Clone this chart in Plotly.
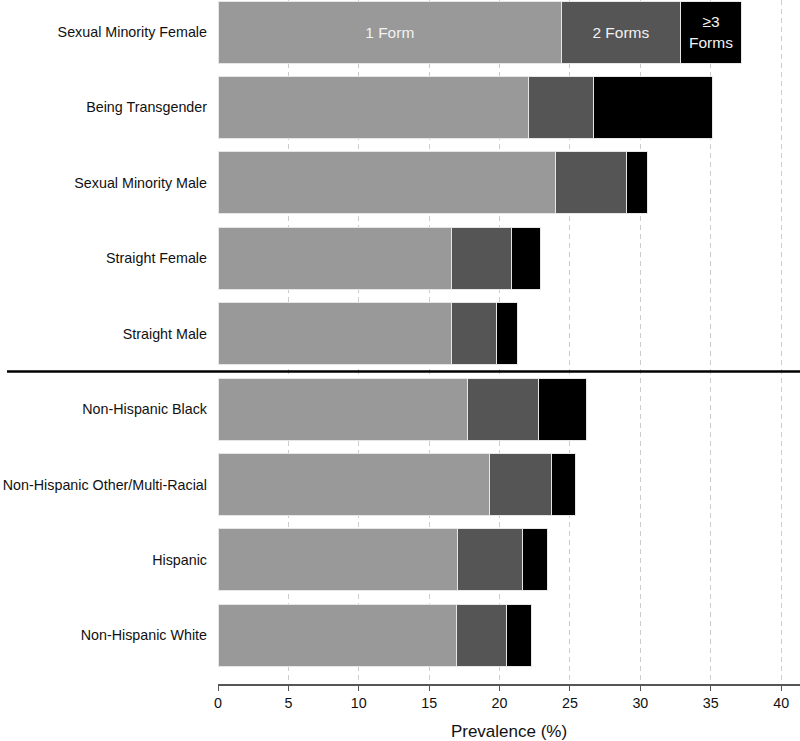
import plotly.graph_objects as go

# groups, top to bottom
categories = [
    "Sexual Minority Female",
    "Being Transgender",
    "Sexual Minority Male",
    "Straight Female",
    "Straight Male",
    "Non-Hispanic Black",
    "Non-Hispanic Other/Multi-Racial",
    "Hispanic",
    "Non-Hispanic White",
]

# prevalence (%) by number of forms
one_form = [24.4, 22.05, 24.0, 16.6, 16.6, 17.7, 19.3, 17.0, 16.95]
two_forms = [8.45, 4.6, 5.05, 4.25, 3.2, 5.1, 4.4, 4.6, 3.55]
three_plus = [4.35, 8.45, 1.45, 2.05, 1.5, 3.4, 1.7, 1.8, 1.8]

series_names = ["1 Form", "2 Forms", "≥3<br>Forms"]
series_values = [one_form, two_forms, three_plus]
series_colors = ["#999999", "#555555", "#000000"]

fig = go.Figure()
for name, vals, col in zip(series_names, series_values, series_colors):
    # only the first bar carries the labels
    labels = [name] + [""] * (len(categories) - 1)
    fig.add_trace(go.Bar(
        y=categories, x=vals, orientation="h", name=name,
        marker=dict(color=col, line=dict(color="#e6e6e6", width=1)),
        text=labels, textposition="inside", insidetextanchor="middle",
        textangle=0, textfont=dict(color="#f2f2f2", size=15.5),
        width=0.823, showlegend=False,
    ))

# separator between the two groups of categories
fig.add_shape(type="line", xref="paper", yref="y",
              x0=-0.3625, x1=1.0, y0=4.5, y1=4.5,
              line=dict(color="black", width=2.5))

fig.update_layout(
    barmode="stack",
    width=800, height=741,
    margin=dict(l=218, r=0, t=0, b=57),
    plot_bgcolor="white", paper_bgcolor="white",
    font=dict(family="Liberation Sans, Arial, sans-serif", size=14.3, color="#111"),
)
fig.update_xaxes(
    range=[0, 41.34], tickvals=[0, 5, 10, 15, 20, 25, 30, 35, 40],
    showgrid=True, gridcolor="#cccccc", griddash="5px,4px", gridwidth=1,
    zeroline=False, showline=True, linecolor="#555555", linewidth=2,
    ticks="outside", ticklen=5, tickcolor="#555555",
    title=dict(text="Prevalence (%)", standoff=17), automargin=False,
)
fig.update_yaxes(
    type="category", range=[8.645, -0.425], automargin=False,
    showgrid=False, showline=False, ticks="", ticklabelstandoff=10,
)

# page body margin would shift the figure by 8px
fig.write_html("out.html", config={"displayModeBar": False},
               post_script="document.body.style.margin='0px';")
